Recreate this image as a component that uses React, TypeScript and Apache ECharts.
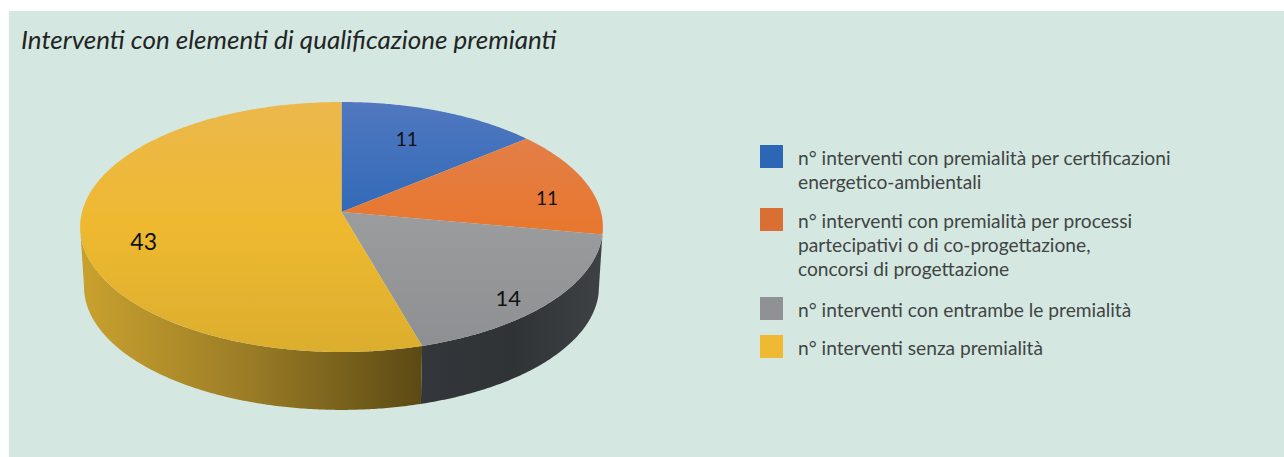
import React, { useEffect, useRef } from "react";
import * as echarts from "echarts";

const titleText = "Interventi con elementi di qualificazione premianti";
const categories = [
  "n° interventi con premialità per certificazioni\nenergetico-ambientali",
  "n° interventi con premialità per processi\npartecipativi o di co-progettazione,\nconcorsi di progettazione",
  "n° interventi con entrambe le premialità",
  "n° interventi senza premialità",
];
const values = [11, 11, 14, 43];
const swatchColors = ["#2b67b5", "#d96f33", "#8f9195", "#efb931"];
const topStops = [
  ["#5178c0", "#2d68b6", "#2560ae"],
  ["#e08252", "#e8772f", "#dd6c2e"],
  ["#9ea4a4", "#999b9c", "#8d8f92"],
  ["#ecb84c", "#eeb92f", "#dcae2e"],
];
const wallStops = [
  ["#1c3f70", "#1c3f70"],
  ["#8a4a20", "#8a4a20"],
  ["#33363a", "#303336", "#3f4245"],
  ["#c9a12e", "#9a7c26", "#5c4a14"],
];
const swatchTops = [145, 208, 297, 335];

// disc geometry
const CX = 341.5, CY = 212, RX = 259.5, RY = 123.2, PERSP = 0.12;
const WALL_H = 60, WALL_K = 0.985;
const TOP_Y0 = 102, TOP_Y1 = 352;
const WALL_LIMIT = (Math.acos(-PERSP) * 180) / Math.PI;
// label anchor: fraction of radius along the mid-angle, plus a vertical shift
const labelAnchors = [[0.635, -7], [0.84, 11], [0.81, 14], [0.76, 16]];
const labelSizes = [19, 19, 22, 23];

function project(deg: number, r = 1) {
  const t = (deg * Math.PI) / 180;
  const u = Math.sin(t) * r, v = -Math.cos(t) * r;
  const d = 1 - PERSP * v;
  return [CX + (RX * u) / d, CY + (RY * v) / d];
}
function arc(a: number, b: number) {
  const n = Math.max(2, Math.ceil(Math.abs(b - a) / 0.5));
  const pts: number[][] = [];
  for (let i = 0; i <= n; i++) pts.push(project(a + ((b - a) * i) / n));
  return pts;
}
function lower(p: number[]) {
  return [CX + (p[0] - CX) * WALL_K, CY + (p[1] - CY) * WALL_K + WALL_H];
}
function grad(x0: number, y0: number, x1: number, y1: number, cols: string[]) {
  return new echarts.graphic.LinearGradient(
    x0, y0, x1, y1,
    cols.map((color, i) => ({ offset: i / (cols.length - 1), color })),
    true
  );
}

export default function App() {
  const ref = useRef<HTMLDivElement>(null);
  useEffect(() => {
    document.body.style.margin = "0";
    const chart = echarts.init(ref.current!, undefined, { renderer: "svg" });
    const total = values.reduce((a, b) => a + b, 0);
    const angles: number[] = [0];
    values.forEach((v, i) => angles.push(angles[i] + (v / total) * 360));

    const legendGraphics: any[] = [];
    categories.forEach((c, i) => {
      legendGraphics.push({
        type: "rect",
        shape: { x: 760, y: swatchTops[i], width: 23, height: 23 },
        style: { fill: swatchColors[i] },
      });
      legendGraphics.push({
        type: "text",
        x: 798,
        y: swatchTops[i],
        style: {
          text: c,
          fill: "#414444",
          font: "400 19.2px Lato",
          lineHeight: 24,
          textVerticalAlign: "top",
        },
      });
    });

    chart.setOption({
      animation: false,
      backgroundColor: "transparent",
      title: {
        text: titleText,
        left: 21,
        top: 26,
        padding: 0,
        textStyle: {
          fontFamily: "Lato",
          fontStyle: "italic",
          fontWeight: 400,
          fontSize: 26,
          color: "#222524",
        },
      },
      graphic: [
        {
          type: "rect",
          z: -10,
          shape: { x: 9, y: 11, width: 1275, height: 446 },
          style: { fill: "#d4e8e1" },
        },
        ...legendGraphics,
      ],
      series: [
        {
          type: "custom",
          coordinateSystem: "none",
          data: values.map((v, i) => ({ name: categories[i], value: v })),
          silent: true,
          renderItem: (params: any) => {
            const i = params.dataIndex;
            const a = angles[i], b = angles[i + 1];
            const children: any[] = [];
            const wa = Math.max(a, WALL_LIMIT), wb = Math.min(b, 360 - WALL_LIMIT);
            if (wb > wa) {
              const upper = arc(wa, wb);
              const poly = upper.concat(upper.map(lower).reverse());
              const xs = poly.map((p) => p[0]);
              children.push({
                type: "polygon",
                shape: { points: poly },
                style: {
                  fill: grad(Math.min(...xs), 0, Math.max(...xs), 0, wallStops[i]),
                },
              });
            }
            const top = [[CX, CY]].concat(arc(a, b));
            children.push({
              type: "polygon",
              shape: { points: top },
              style: { fill: grad(0, TOP_Y0, 0, TOP_Y1, topStops[i]) },
            });
            const [rf, dy] = labelAnchors[i];
            const p = project((a + b) / 2, rf);
            children.push({
              type: "text",
              x: p[0],
              y: p[1] + dy,
              z2: 10,
              style: {
                text: String(values[i]),
                fill: "#111111",
                font: `400 ${labelSizes[i]}px Lato`,
                textAlign: "center",
                textVerticalAlign: "middle",
              },
            });
            return { type: "group", children };
          },
        },
      ],
    });
    return () => chart.dispose();
  }, []);
  return (
    <div
      ref={ref}
      style={{ position: "absolute", left: 0, top: 0, width: 1284, height: 457, background: "#ffffff" }}
    />
  );
}
